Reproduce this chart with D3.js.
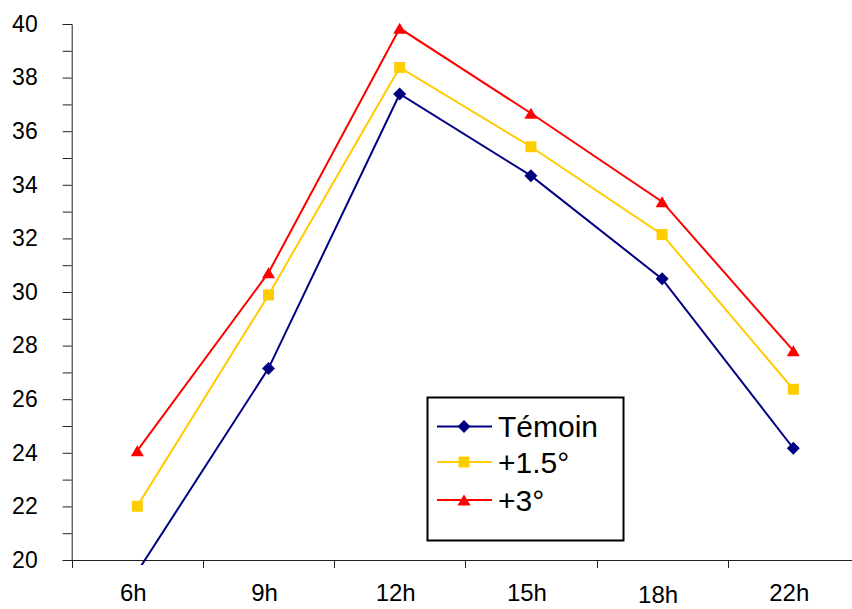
<!DOCTYPE html>
<html>
<head>
<meta charset="utf-8">
<script src="https://cdn.jsdelivr.net/npm/d3@7"></script>
<style>
  html, body { margin: 0; padding: 0; background: #fff; }
  svg { display: block; font-family: "Liberation Sans", Arial, sans-serif; }
</style>
</head>
<body>
<svg id="chart" width="852" height="609"></svg>
<script>
// Hours of the day
const hours = ["6h", "9h", "12h", "15h", "18h", "22h"];

// Temperatures per treatment
const temoin = [19.56, 27.15, 37.39, 34.34, 30.49, 24.17];
const plus15 = [22.01, 29.89, 38.38, 35.42, 32.15, 26.37];
const plus3  = [24.08, 30.72, 39.84, 36.67, 33.37, 27.81];

const seriesNames = ["Témoin", "+1.5°", "+3°"];
const yTicks = [20, 22, 24, 26, 28, 30, 32, 34, 36, 38, 40];
const yMinorTicks = [21, 23, 25, 27, 29, 31, 33, 35, 37, 39];

const series = [
  { name: seriesNames[0], values: temoin, color: "#000080", marker: "diamond" },
  { name: seriesNames[1], values: plus15, color: "#FFCC00", marker: "square" },
  { name: seriesNames[2], values: plus3,  color: "#FF0000", marker: "triangle" }
];

const svg = d3.select("#chart");
const plotLeft = 71.7, plotTop = 24, plotBottom = 560;
const bandW = 131.2;

const x = d3.scaleBand().domain(hours).range([plotLeft, plotLeft + bandW * hours.length]).padding(0);
const y = d3.scaleLinear().domain([20, 40]).range([plotBottom, plotTop]);
const cx = h => x(h) + x.bandwidth() / 2;

const axisColor = "#222";

// Clip region for the series (slight overflow below the x axis)
svg.append("defs").append("clipPath").attr("id", "plotClip")
  .append("rect").attr("x", plotLeft).attr("y", plotTop - 10)
  .attr("width", 852 - plotLeft).attr("height", plotBottom - plotTop + 15);

// Y axis: major and minor ticks, outside
const yAxis = d3.axisLeft(y).tickValues(yTicks).tickSize(9).tickPadding(25).tickFormat(d3.format("d"));
const gy = svg.append("g").attr("transform", `translate(${plotLeft},0)`).call(yAxis);
gy.select(".domain").attr("stroke", axisColor).attr("stroke-width", 1);
gy.selectAll(".tick line").attr("stroke", axisColor);
gy.selectAll(".tick text").attr("font-size", 23).attr("fill", "#000")
  .attr("font-family", "'Liberation Sans', Arial, sans-serif");

svg.append("g").selectAll("line").data(yMinorTicks).join("line")
  .attr("x1", plotLeft - 9).attr("x2", plotLeft)
  .attr("y1", d => y(d) + 0.5).attr("y2", d => y(d) + 0.5)
  .attr("stroke", axisColor);

// X axis: line to the right edge, ticks between categories
svg.append("line").attr("x1", plotLeft).attr("x2", 852)
  .attr("y1", plotBottom + 0.5).attr("y2", plotBottom + 0.5)
  .attr("stroke", axisColor);
const tickXs = hours.map(h => x(h)).concat([x(hours[hours.length - 1]) + x.bandwidth()]);
svg.append("g").selectAll("line").data(tickXs).join("line")
  .attr("x1", d => Math.round(d) + 0.5).attr("x2", d => Math.round(d) + 0.5)
  .attr("y1", plotBottom).attr("y2", plotBottom + 8)
  .attr("stroke", axisColor);

svg.append("g").selectAll("text").data(hours).join("text")
  .attr("x", d => cx(d) - 4)
  .attr("y", d => 601 + (d === "18h" ? 2 : 0))
  .attr("text-anchor", "middle")
  .attr("font-size", 24)
  .attr("fill", "#000")
  .text(d => d);

// Series lines and markers
const line = d3.line().x((d, i) => cx(hours[i])).y(d => y(d));

function markerPath(type) {
  if (type === "diamond") return "M0,-6.5L6.5,0L0,6.5L-6.5,0Z";
  if (type === "square") return "M-5.5,-5.5H5.5V5.5H-5.5Z";
  return "M0,-5.5L6.5,5.5H-6.5Z";
}

const plot = svg.append("g").attr("clip-path", "url(#plotClip)");
series.forEach(s => {
  plot.append("path").datum(s.values)
    .attr("d", line).attr("fill", "none")
    .attr("stroke", s.color).attr("stroke-width", 2);
});
series.forEach(s => {
  const pts = s.values.map((v, i) => ({ v, h: hours[i] })).filter(d => d.v >= 20);
  plot.append("g").selectAll("path").data(pts).join("path")
    .attr("transform", d => `translate(${cx(d.h)},${y(d.v)})`)
    .attr("d", markerPath(s.marker))
    .attr("fill", s.color);
});

// Legend
const lg = svg.append("g");
lg.append("rect").attr("x", 427.5).attr("y", 397.5).attr("width", 196).attr("height", 143)
  .attr("fill", "#fff").attr("stroke", "#000").attr("stroke-width", 2);
const rowY = [426.5, 462, 500];
series.forEach((s, i) => {
  const g = lg.append("g").attr("transform", `translate(0,${rowY[i]})`);
  g.append("line").attr("x1", 437).attr("x2", 492).attr("y1", 0).attr("y2", 0)
    .attr("stroke", s.color).attr("stroke-width", 2);
  g.append("path").attr("transform", "translate(464,0)").attr("d", markerPath(s.marker)).attr("fill", s.color);
  g.append("text").attr("x", 498).attr("y", 0).attr("dy", "0.36em")
    .attr("font-size", 30).attr("fill", "#000").text(s.name);
});
</script>
</body>
</html>
